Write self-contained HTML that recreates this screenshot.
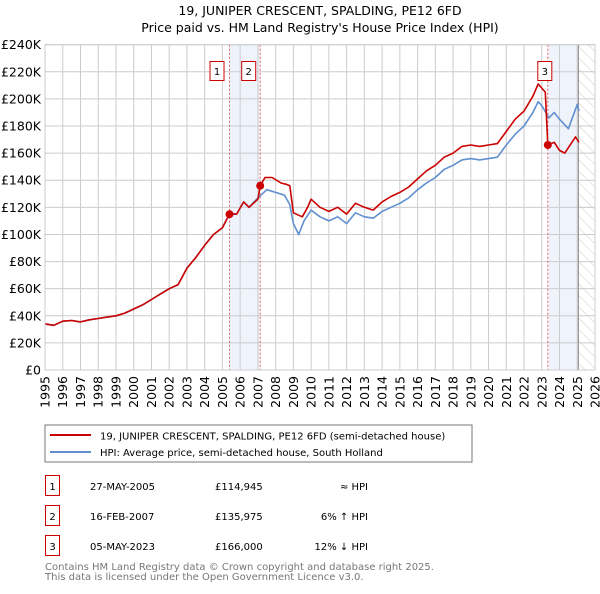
<!DOCTYPE html>
<html><head><meta charset="utf-8"><style>
body{margin:0;background:#fff;font-family:"DejaVu Sans","Liberation Sans",sans-serif;}
svg text{font-family:"DejaVu Sans","Liberation Sans",sans-serif;}
</style></head><body>
<svg id="c" width="600" height="590" viewBox="0 0 600 590" xmlns="http://www.w3.org/2000/svg">
<defs><pattern id="hatch" width="8" height="8" patternUnits="userSpaceOnUse" patternTransform="rotate(-45)"><line x1="0" y1="0" x2="0" y2="8" stroke="#ccc" stroke-width="1"/></pattern></defs>
<text x="320" y="15" font-size="12.5" text-anchor="middle">19, JUNIPER CRESCENT, SPALDING, PE12 6FD</text>
<text x="320" y="32" font-size="12.5" text-anchor="middle">Price paid vs. HM Land Registry's House Price Index (HPI)</text>
<g id="plot"></g>
<rect x="45" y="425" width="427" height="37" fill="#fff" stroke="#777"/>
<line x1="50" y1="435" x2="91" y2="435" stroke="#cc0000" stroke-width="2"/>
<text x="100" y="439.5" font-size="10">19, JUNIPER CRESCENT, SPALDING, PE12 6FD (semi-detached house)</text>
<line x1="50" y1="452" x2="91" y2="452" stroke="#6090d0" stroke-width="2"/>
<text x="100" y="456" font-size="10">HPI: Average price, semi-detached house, South Holland</text>
<g font-size="10">
<rect x="45.5" y="475.5" width="14" height="20" fill="none" stroke="#cc0000"/><text x="52.5" y="490" text-anchor="middle">1</text>
<text x="90" y="490">27-MAY-2005</text><text x="215" y="490">£114,945</text><text x="368" y="490" text-anchor="end">≈ HPI</text>
<rect x="45.5" y="505.5" width="14" height="20" fill="none" stroke="#cc0000"/><text x="52.5" y="520" text-anchor="middle">2</text>
<text x="90" y="520">16-FEB-2007</text><text x="215" y="520">£135,975</text><text x="368" y="520" text-anchor="end">6% ↑ HPI</text>
<rect x="45.5" y="535.5" width="14" height="20" fill="none" stroke="#cc0000"/><text x="52.5" y="550" text-anchor="middle">3</text>
<text x="90" y="550">05-MAY-2023</text><text x="215" y="550">£166,000</text><text x="368" y="550" text-anchor="end">12% ↓ HPI</text>
</g>
<text x="45" y="570" font-size="10" fill="#777">Contains HM Land Registry data © Crown copyright and database right 2025.</text>
<text x="45" y="580" font-size="10" fill="#777">This data is licensed under the Open Government Licence v3.0.</text>
</svg>
<script>
const yTicks=[0,20,40,60,80,100,120,140,160,180,200,220,240];
const years=[1995,1996,1997,1998,1999,2000,2001,2002,2003,2004,2005,2006,2007,2008,2009,2010,2011,2012,2013,2014,2015,2016,2017,2018,2019,2020,2021,2022,2023,2024,2025,2026];
const hpiT=[1995,1995.5,1996,1996.5,1997,1997.5,1998,1998.5,1999,1999.5,2000,2000.5,2001,2001.5,2002,2002.5,2003,2003.5,2004,2004.5,2005,2005.4,2005.8,2006.2,2006.5,2007,2007.5,2008,2008.5,2008.8,2009,2009.3,2009.6,2010,2010.5,2011,2011.5,2012,2012.5,2013,2013.5,2014,2014.5,2015,2015.5,2016,2016.5,2017,2017.5,2018,2018.5,2019,2019.5,2020,2020.5,2021,2021.5,2022,2022.5,2022.8,2023,2023.4,2023.7,2024,2024.5,2025,2025.1];
const hpiV=[34,33,36,36.5,35.5,37,38,39,40,42,45,48,52,56,60,63,75,83,92,100,105,115,115,124,120,127,133,131,129,122,108,100,110,118,113,110,113,108,116,113,112,117,120,123,127,133,138,142,148,151,155,156,155,156,157,166,174,180,190,198,195,186,190,185,178,196,191];
const propT=[1995,1995.5,1996,1996.5,1997,1997.5,1998,1998.5,1999,1999.5,2000,2000.5,2001,2001.5,2002,2002.5,2003,2003.5,2004,2004.5,2005,2005.4,2005.8,2006.2,2006.5,2007,2007.13,2007.4,2007.8,2008.3,2008.6,2008.8,2009,2009.5,2009.8,2010,2010.5,2011,2011.5,2012,2012.5,2013,2013.5,2014,2014.5,2015,2015.5,2016,2016.5,2017,2017.5,2018,2018.5,2019,2019.5,2020,2020.5,2021,2021.5,2022,2022.5,2022.8,2023.2,2023.34,2023.7,2024,2024.3,2024.9,2025.1];
const propV=[34,33,36,36.5,35.5,37,38,39,40,42,45,48,52,56,60,63,75,83,92,100,105,115,115,124,120,126,136,142,142,138,137,136,116,113,120,126,120,117,120,115,123,120,118,124,128,131,135,141,147,151,157,160,165,166,165,166,167,176,185,191,202,211,205,166,168,162,160,172,168];
const sales=[{t:2005.4,v:114.945,n:"1"},{t:2007.13,v:135.975,n:"2"},{t:2023.34,v:166,n:"3"}];
const labelShift={"1":-12.5,"2":-11.5,"3":-3};
const X0=45,X1=595,Y0=370,Y1=44.7,T0=1995,T1=2026;
const x=t=>X0+(t-T0)/(T1-T0)*(X1-X0);
const y=v=>Y0-v/240*(Y0-Y1);
const NS="http://www.w3.org/2000/svg";
const g=document.getElementById('plot');
function mk(tag,a,p){const e=document.createElementNS(NS,tag);for(const k in a)e.setAttribute(k,a[k]);(p||g).appendChild(e);return e;}
let s=mk('rect',{x:x(2005.4),y:Y1,width:x(2007.13)-x(2005.4),height:Y0-Y1,fill:'#eef3fc'});


s=mk('rect',{x:x(2023.34),y:Y1,width:x(2025.06)-x(2023.34),height:Y0-Y1,fill:'#eef3fc'});


s=mk('rect',{x:x(2025.06),y:Y1,width:X1-x(2025.06),height:Y0-Y1,fill:'url(#hatch)'});


yTicks.forEach(v=>{
 const l=mk('line',{x1:X0,x2:X1,y1:y(v),y2:y(v),stroke:'#ccc','stroke-width':1});
 
 
 const t=mk('text',{x:X0-4,y:y(v)+4.5,'font-size':12.5,'text-anchor':'end'});
 t.textContent=v===0?'£0':'£'+v+'K';
 
 
});
years.forEach(yr=>{
 const l=mk('line',{x1:x(yr),x2:x(yr),y1:Y1,y2:Y0,stroke:'#ccc','stroke-width':1});
 
 
 const t=mk('text',{x:0,y:0,'font-size':12.5,'text-anchor':'end',transform:`translate(${x(yr)+4.5},${Y0+6}) rotate(-90)`});
 t.textContent=yr;
 
 
});
s=mk('line',{x1:x(2025.06),x2:x(2025.06),y1:Y1,y2:Y0,stroke:'#888','stroke-width':1});


sales.forEach(d=>{
 const l=mk('line',{x1:x(d.t),x2:x(d.t),y1:Y1,y2:Y0,stroke:'#e06060','stroke-width':1,'stroke-dasharray':'2,2'});
 
 
});
function path(T,V,col,name){
 const d=T.map((t,i)=>(i?'L':'M')+x(t).toFixed(1)+','+y(V[i]).toFixed(1)).join('');
 const p=mk('path',{d:d,fill:'none',stroke:col,'stroke-width':1.6,'stroke-linejoin':'round'});
 
 
}
path(hpiT,hpiV,'#6090d0','hpi-line');
path(propT,propV,'#cc0000','property-line');
sales.forEach(d=>{
 const c=mk('circle',{cx:x(d.t),cy:y(d.v),r:4,fill:'#cc0000'});
 
 
 const cx=x(d.t)+labelShift[d.n];
 const r=mk('rect',{x:cx-7,y:61.5,width:14,height:19,fill:'#fff',stroke:'#cc0000'});
 
 
 const t=mk('text',{x:cx,y:75,'font-size':10,'text-anchor':'middle'});
 t.textContent=d.n;
 
 
});
s=mk('rect',{x:X0,y:Y1,width:X1-X0,height:Y0-Y1,fill:'none',stroke:'#ccc'});


</script>
</body></html>
